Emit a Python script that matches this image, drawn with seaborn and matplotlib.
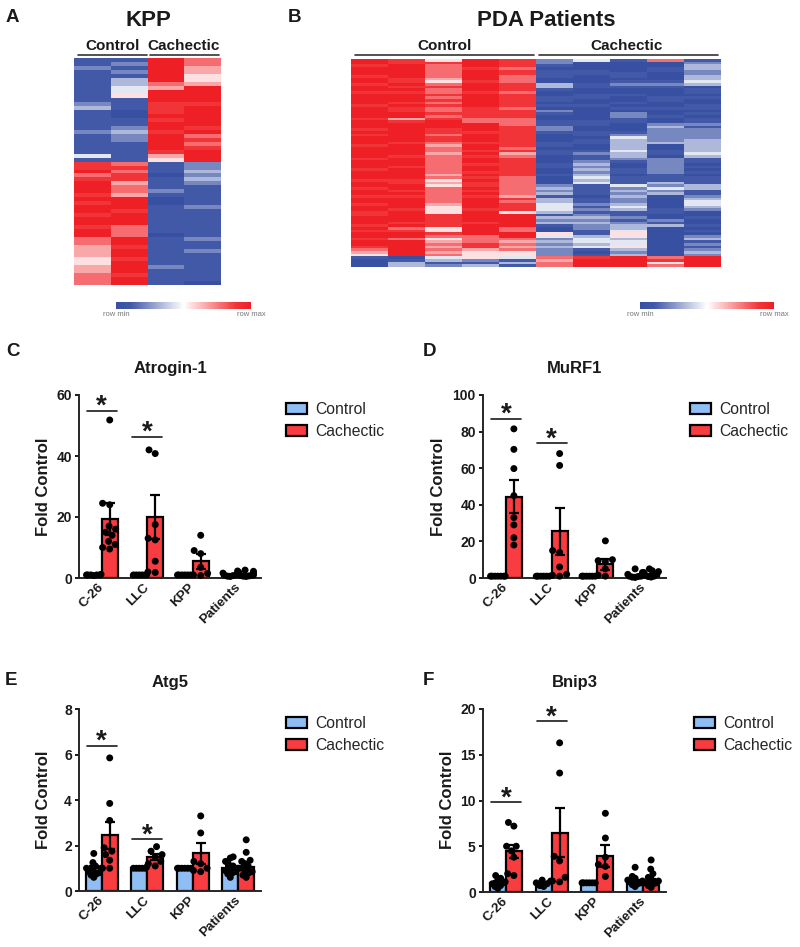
import matplotlib
matplotlib.use('Agg')
import matplotlib.pyplot as plt
from matplotlib.colors import LinearSegmentedColormap
from matplotlib.transforms import ScaledTranslation
import seaborn as sns
import pandas as pd

# heatmap rows: 0 = full blue, 9 = full red
kpp_ctrl_1 = [1,1,2,1,1,1,1,1,1,1, 1,2,3,1,1,1,1,1,2,1, 1,1,1,1,4,1, 8,8,9,7,8,9,9,9,8,9, 8,9,9,8,9,9,8,9,9, 7,7,6,6,6,5,5,6,6,7,7,7]
kpp_ctrl_2 = [1,2,1,2,1,3,3,4,4,5, 1,1,1,0,0,1,1,2,3,2, 2,1,1,1,1,1, 7,8,7,8,8,6,7,7,6,9, 9,9,8,9,9,9,7,7,7, 9,9,8,9,9,8,9,9,9,8,9,9]
kpp_cach_1 = [9,9,9,9,9,9,7,6,9,9, 9,8,8,8,9,8,9,9,8,9, 9,9,9,8,6,5, 1,1,1,0,1,1,1,2,1,0, 0,1,1,1,1,1,1,1,0,1, 1,1,1,1,1,1,2,1,1,1,1]
kpp_cach_2 = [7,7,6,6,5,5,6,9,9,9, 9,8,9,9,9,9,9,8,9,7, 8,7,8,9,9,9, 2,2,3,2,3,2,1,1,1,1, 1,2,1,1,1,1,1,1,1,2, 1,1,2,1,1,1,1,1,1,1,0]

pda_ctrl_1 = [9,9,8,9,9,9,8,9,9,8, 9,9,8,9,9,9,9,8,9,9, 9,9,8,9,9,9,8,9,8,9, 9,9,8,9,9,9,9,8,9,9, 9,8,9,9,9,8,9,9,8,9, 9,8,9,9,8,9,9,8,8,9, 9,9,8,9,8,9,9,8,9,9, 8,7,6,5,1,0,0,0]
pda_ctrl_2 = [8,8,9,9,9,9,9,8,8,9, 8,9,8,9,9,9,8,9,8,8, 9,9,6,8,9,9,9,9,9,9, 9,8,9,9,9,9,8,9,9,9, 8,9,9,9,9,8,8,9,9,8, 9,8,9,9,9,9,8,9,9,9, 9,8,9,7,8,9,9,7,9,9, 9,9,9,9,0,1,3,3]
pda_ctrl_3 = [5,8,7,7,7,7,7,6,5,7, 8,7,7,8,7,8,7,8,7,7, 8,7,8,9,9,9,8,8,7,8, 8,7,6,7,7,6,7,7,7,7, 7,7,7,6,7,5,6,5,7,7, 7,7,7,7,6,5,5,5,8,8, 8,8,8,5,5,8,7,5,6,7, 6,7,6,7,4,3,1,2]
pda_ctrl_4 = [9,9,9,8,9,9,9,9,8,9, 9,9,8,9,9,9,9,9,8,8, 8,8,7,7,9,9,9,8,9,9, 9,8,9,9,8,9,8,9,9,8, 9,9,8,9,8,9,8,8,9,8, 9,8,9,9,9,9,8,9,9,9, 9,8,9,9,9,9,7,7,7,8, 8,6,5,5,5,2,1,3]
pda_ctrl_5 = [8,8,8,7,8,8,7,7,7,8, 8,8,7,8,8,8,8,8,7,8, 8,8,7,7,7,8,8,8,8,8, 8,8,8,7,8,6,7,8,8,8, 8,8,8,8,7,7,7,7,7,7, 7,6,8,7,8,8,8,5,9,9, 9,9,9,7,7,9,9,7,6,7, 6,7,5,5,4,1,3,1]
pda_cach_1 = [2,2,1,0,1,1,1,0,0,3, 3,1,0,0,1,1,0,1,0,2, 1,0,0,1,1,2,2,1,0,0, 0,1,1,0,1,1,0,0,0,1, 1,0,0,1,0,0,0,2,3,2, 3,1,3,3,4,4,4,3,1,3, 2,3,1,0,0,5,4,2,3,2, 3,2,2,2,7,6,7,7]
pda_cach_2 = [4,0,0,0,1,1,0,0,0,1, 1,0,0,1,1,0,0,1,0,0, 0,0,0,1,1,0,0,1,1,0, 1,1,0,0,1,2,1,1,2,3, 2,3,2,3,4,3,4,1,1,1, 1,0,1,1,2,1,2,1,2,3, 2,3,2,2,1,1,3,4,4,3, 4,1,0,1,8,9,9,9]
pda_cach_3 = [1,0,0,0,0,1,1,0,1,2, 1,0,0,1,0,0,1,0,1,0, 2,2,1,1,0,0,0,1,2,4, 3,3,3,3,4,3,3,2,1,0, 0,1,1,0,1,1,1,4,2,3, 2,3,2,2,3,4,3,1,1,2, 1,2,3,3,4,5,5,3,4,4, 5,3,2,3,9,9,9,9]
pda_cach_4 = [7,0,0,1,1,0,0,0,1,2, 1,0,0,0,1,1,0,0,1,0, 0,1,0,0,2,3,2,2,2,2, 2,3,0,0,1,1,0,2,2,2, 2,2,2,1,1,1,3,2,4,2, 3,0,0,0,0,0,1,1,0,0, 2,1,3,0,0,0,0,0,0,0, 0,0,0,0,7,8,5,7]
pda_cach_5 = [1,2,3,3,2,2,3,3,4,3, 0,1,1,0,1,0,0,1,1,0, 1,0,1,1,2,1,2,2,2,2, 3,3,3,3,3,4,3,1,1,0, 1,0,1,0,1,1,1,3,3,1, 1,2,3,4,4,3,2,0,0,1, 0,0,1,0,1,0,2,3,1,2, 1,2,3,2,9,9,9,9]

models = ['C-26', 'LLC', 'KPP', 'Patients']

atrogin_ctrl_mean = [1, 1, 1, 1]
atrogin_cach_mean = [19.3, 20, 5.5, 1.1]
atrogin_ctrl_sem = [0.1, 0.1, 0.1, 0.15]
atrogin_cach_sem = [5.2, 7.3, 2.5, 0.2]
atrogin_ctrl_pts = [[1.2, 1, 1, 1, 1, 1, 0.8], [1, 1, 1, 1, 1, 1], [1, 1, 1, 1, 1, 1],
                    [2.3, 1.6, 1, 0.9, 0.8, 0.6, 0.5]]
atrogin_cach_pts = [[51.8, 24.5, 24, 17, 16, 15, 14, 12, 11, 10, 9.5], [42, 40.8, 17.5, 13, 12.5, 5.5, 2, 1.8],
                    [14, 9, 8, 3.5, 1.5, 1, 0.8], [2.6, 2.2, 1.8, 1.5, 1.2, 1, 0.9, 0.8, 0.7, 0.6, 0.5]]

murf_ctrl_mean = [1, 1, 1, 1.2]
murf_cach_mean = [44.5, 25.5, 7.5, 1.5]
murf_ctrl_sem = [0.2, 0.2, 0.2, 0.4]
murf_cach_sem = [8.8, 13, 3, 0.5]
murf_ctrl_pts = [[1, 1, 1, 1, 1, 1, 1], [1, 1, 1, 1, 1, 1], [1, 1, 1, 1, 1, 1], [5, 3, 2, 1, 1, 0.8, 0.5, 0.3]]
murf_cach_pts = [[81.5, 70.3, 59.8, 45, 33, 29, 22, 18], [68, 61.5, 15, 14, 6, 2, 1.5, 1],
                 [20.3, 10, 9.5, 9, 5, 1.5, 1], [5, 4, 3.5, 3, 2, 1.5, 1, 0.8, 0.5]]

atg_ctrl_mean = [1, 1, 1, 1]
atg_cach_mean = [2.45, 1.5, 1.65, 1.05]
atg_ctrl_sem = [0.1, 0.02, 0.02, 0.08]
atg_cach_sem = [0.6, 0.12, 0.45, 0.1]
atg_ctrl_pts = [[1.65, 1.25, 1.1, 1, 1, 0.9, 0.85, 0.8, 0.75, 0.7, 0.6], [1.05, 1, 1, 1, 1, 1], [1, 1, 1, 1, 1, 1],
                [1.5, 1.45, 1.3, 1.2, 1.1, 1, 0.95, 0.9, 0.85, 0.8, 0.75, 0.6]]
atg_cach_pts = [[5.85, 3.85, 3.1, 1.9, 1.75, 1.6, 1.35, 1, 1], [1.95, 1.75, 1.6, 1.5, 1.3, 1.2, 1.1],
                [3.3, 2.55, 1.3, 1.2, 1, 0.9, 0.85], [2.25, 1.7, 1.35, 1.3, 1.2, 1.1, 1, 1, 0.9, 0.85, 0.8, 0.7, 0.6]]

bnip_ctrl_mean = [1, 1, 1, 1.2]
bnip_cach_mean = [4.45, 6.5, 3.9, 1.2]
bnip_ctrl_sem = [0.15, 0.1, 0.05, 0.15]
bnip_cach_sem = [0.7, 2.7, 1.2, 0.2]
bnip_ctrl_pts = [[1.8, 1.5, 1.3, 1.1, 1, 0.9, 0.7, 0.6, 0.4], [1.3, 1.2, 1, 0.9, 0.7, 0.6], [1, 1, 1, 1, 1, 1],
                 [2.7, 1.7, 1.5, 1.3, 1.2, 1.1, 1, 0.9, 0.8, 0.6]]
bnip_cach_pts = [[7.6, 7.2, 5, 5, 4.5, 3.8, 2, 1.8], [16.3, 13, 3.9, 3.4, 1.6, 1.2, 1.1],
                 [8.6, 5.9, 3.8, 3, 2.8, 1.7], [3.5, 2.5, 2, 1.6, 1.4, 1.2, 1, 1, 0.9, 0.7, 0.5]]

W, H = 800, 947
sns.set_theme(style='ticks')
plt.rcParams['font.family'] = ['Liberation Sans', 'DejaVu Sans']
fig = plt.figure(figsize=(W / 100, H / 100), dpi=100)
heat_cmap = LinearSegmentedColormap.from_list('rowscale', [(0, '#3750a2'), (0.11, '#4259a8'), (0.5, '#ffffff'),
                                                           (0.89, '#f13438'), (1, '#ee2026')])
colors = {'Control': '#8fbef5', 'Cachectic': '#f93c3f'}
ink = '#1a1a1a'


def fx(x):
    return x / W


def fy(y):
    return 1 - y / H


def px_axes(left, top, right, bottom):
    return fig.add_axes([fx(left), fy(bottom), fx(right - left), (bottom - top) / H])


def put_text(x, y, s, **kw):
    fig.text(fx(x), fy(y), s, ha=kw.pop('ha', 'center'), va='center', color=kw.pop('color', ink), **kw)


def header_line(x0, x1, y=55):
    fig.add_artist(plt.Line2D([fx(x0), fx(x1)], [fy(y), fy(y)], color='#333333', lw=1.2))


def draw_heat(columns, box, cbar_box):
    ax = px_axes(*box)
    cax = px_axes(*cbar_box)
    df = pd.DataFrame({i: c for i, c in enumerate(columns)})
    sns.heatmap(df, ax=ax, cmap=heat_cmap, vmin=0, vmax=9, xticklabels=False, yticklabels=False,
                cbar_ax=cax, cbar_kws={'orientation': 'horizontal', 'ticks': []})
    ax.collections[0].colorbar.outline.set_visible(False)
    put_text(cbar_box[0], 314, 'row min', fontsize=5.5, color='#777777')
    put_text(cbar_box[2], 314, 'row max', fontsize=5.5, color='#777777')


def squeeze_swarms(ax):
    # swarmplot lets each swarm run over the whole group width and redoes it on every draw,
    # so fix the layout once and keep each swarm on its own bar
    fig.canvas.draw()
    for coll in ax.collections:
        if 'draw' not in coll.__dict__:
            continue
        del coll.draw
        pts = coll.get_offsets()
        group = round(float(pts[:, 0].mean()))
        side = 1 if pts[:, 0].mean() > group else -1
        dx = pts[:, 0] - (group + side * 0.2)
        reach = abs(dx).max()
        scale = 0.16 / reach if reach > 0.16 else 1
        pts[:, 0] = group + side * 0.175 + dx * scale
        coll.set_offsets(pts)


def draw_bars(box, ymax, yticks, ctrl_mean, cach_mean, ctrl_sem, cach_sem, ctrl_pts, cach_pts, stars, legend_xy):
    ax = px_axes(*box)
    bars = pd.DataFrame({'model': models * 2, 'group': ['Control'] * 4 + ['Cachectic'] * 4,
                         'value': ctrl_mean + cach_mean})
    rows = []
    for name, pts in [('Control', ctrl_pts), ('Cachectic', cach_pts)]:
        for model, vals in zip(models, pts):
            rows += [(model, name, v) for v in vals]
    points = pd.DataFrame(rows, columns=['model', 'group', 'value'])
    sns.barplot(data=bars, x='model', y='value', hue='group', order=models, hue_order=list(colors), palette=colors,
                width=0.7, gap=0, saturation=1, errorbar=None, edgecolor='black', linewidth=1.6, ax=ax)
    for cont, sem in zip(ax.containers, [ctrl_sem, cach_sem]):
        xs = [p.get_x() + p.get_width() / 2 for p in cont]
        ys = [p.get_height() for p in cont]
        ax.errorbar(xs, ys, yerr=sem, fmt='none', ecolor='black', elinewidth=1.6, capsize=3.6, capthick=1.6, zorder=4)
    ax.set_xlim(-0.5, 3.5)
    ax.set_ylim(0, ymax)
    sns.swarmplot(data=points, x='model', y='value', hue='group', order=models, hue_order=list(colors),
                  palette=['black', 'black'], dodge=True, size=5, legend=False, warn_thresh=1, zorder=5,
                  clip_on=False, ax=ax)
    for i, y in stars:
        ax.plot([i - 0.33, i + 0.33], [y, y], color=ink, lw=1.2, zorder=6)
        ax.annotate('*', (i, y), xytext=(0, -6.5), textcoords='offset points', ha='center', va='bottom',
                    fontsize=20, fontweight='bold', color=ink)
    ax.set_xlim(-0.5, 3.5)
    ax.set_ylim(0, ymax)
    ax.set_yticks(yticks)
    ax.set_xlabel('')
    ax.set_ylabel('')
    ax.tick_params(axis='y', length=3.2, width=1.4, labelsize=10, pad=2, colors=ink)
    ax.tick_params(axis='x', length=0, labelsize=9.6, pad=2.5, colors=ink)
    plt.setp(ax.get_xticklabels(), rotation=45, ha='right', rotation_mode='anchor', fontweight='bold')
    plt.setp(ax.get_yticklabels(), fontweight='bold')
    shift = ScaledTranslation(-3 / 72, 0, fig.dpi_scale_trans)
    for label in ax.get_xticklabels():
        label.set_transform(label.get_transform() + shift)
    for side in ['left', 'bottom']:
        ax.spines[side].set_linewidth(1.4)
    sns.despine(ax=ax)
    ax.legend(loc='upper left', bbox_to_anchor=(fx(legend_xy[0]), fy(legend_xy[1])), bbox_transform=fig.transFigure,
              frameon=False, fontsize=11.3, borderpad=0, borderaxespad=0, handlelength=1.33, handleheight=0.75,
              labelspacing=0.46, handletextpad=0.55)
    squeeze_swarms(ax)
    return ax


draw_heat([kpp_ctrl_1, kpp_ctrl_2, kpp_cach_1, kpp_cach_2], (74, 58, 221, 285), (116, 302, 251, 309))
draw_heat([pda_ctrl_1, pda_ctrl_2, pda_ctrl_3, pda_ctrl_4, pda_ctrl_5,
           pda_cach_1, pda_cach_2, pda_cach_3, pda_cach_4, pda_cach_5], (351, 59, 721, 267), (640, 302, 774, 309))

put_text(148, 21, 'KPP', fontsize=16, fontweight='bold')
put_text(546, 21, 'PDA Patients', fontsize=16, fontweight='bold')
for x, label in [(113, 'Control'), (184, 'Cachectic'), (445, 'Control'), (627, 'Cachectic')]:
    put_text(x, 46, label, fontsize=11, fontweight='bold')
for x0, x1 in [(78, 147), (150, 219), (355, 534), (539, 718)]:
    header_line(x0, x1)

draw_bars((79, 395, 261, 578), 60, [0, 20, 40, 60], atrogin_ctrl_mean, atrogin_cach_mean, atrogin_ctrl_sem,
          atrogin_cach_sem, atrogin_ctrl_pts, atrogin_cach_pts, [(0, 54.8), (1, 46.2)], (286, 402))
draw_bars((483, 395, 666, 578), 100, [0, 20, 40, 60, 80, 100], murf_ctrl_mean, murf_cach_mean, murf_ctrl_sem,
          murf_cach_sem, murf_ctrl_pts, murf_cach_pts, [(0, 87), (1, 73.7)], (690, 402))
draw_bars((79, 709, 261, 891), 8, [0, 2, 4, 6, 8], atg_ctrl_mean, atg_cach_mean, atg_ctrl_sem,
          atg_cach_sem, atg_ctrl_pts, atg_cach_pts, [(0, 6.39), (1, 2.28)], (286, 716))
draw_bars((483, 709, 666, 892), 20, [0, 5, 10, 15, 20], bnip_ctrl_mean, bnip_cach_mean, bnip_ctrl_sem,
          bnip_cach_sem, bnip_ctrl_pts, bnip_cach_pts, [(0, 9.8), (1, 18.65)], (694, 716))

for x, y, label in [(170, 368, 'Atrogin-1'), (575, 368, 'MuRF1'), (170, 683, 'Atg5'), (575, 683, 'Bnip3')]:
    put_text(x, y, label, fontsize=12, fontweight='bold')
for x, y in [(43, 487), (439, 487), (43, 800), (447, 800)]:
    put_text(x, y, 'Fold Control', fontsize=12, fontweight='bold', rotation=90)
for x, y, label in [(6, 17, 'A'), (288, 17, 'B'), (6, 351, 'C'), (423, 351, 'D'), (5, 680, 'E'), (423, 680, 'F')]:
    put_text(x, y, label, fontsize=13.5, fontweight='bold', ha='left')

fig.savefig('out.png', dpi=100)
